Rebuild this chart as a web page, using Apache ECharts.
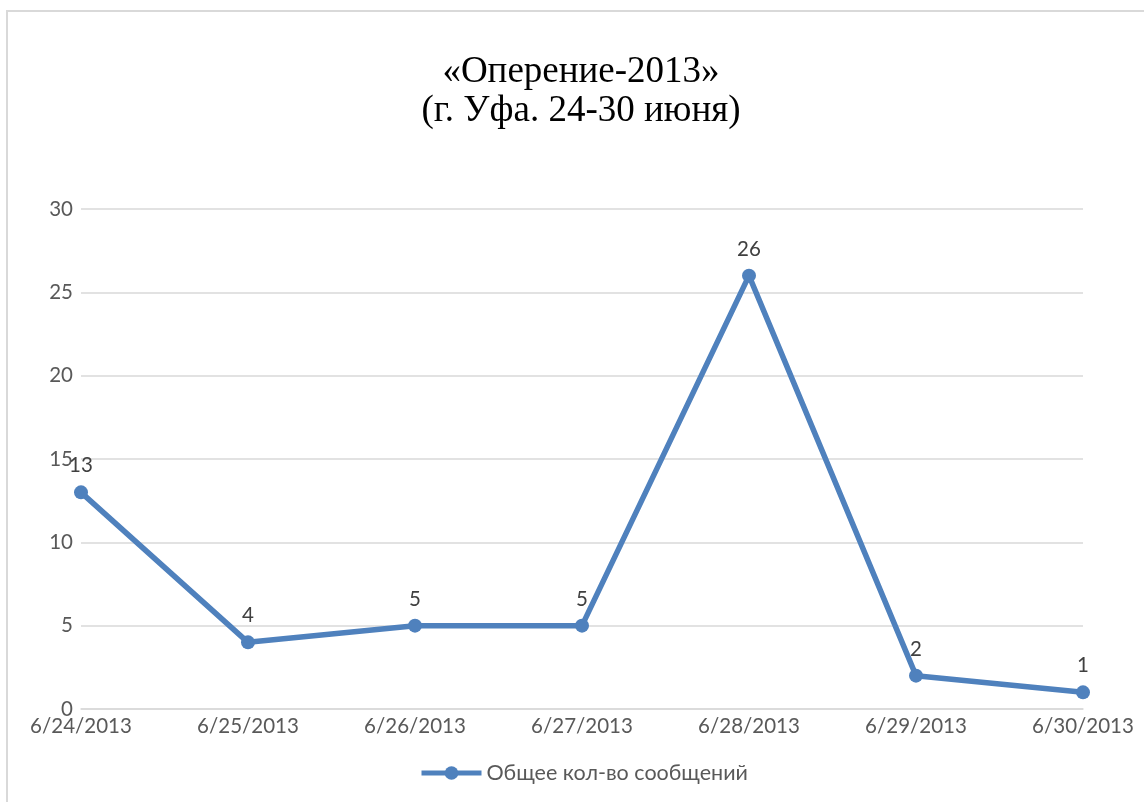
<!DOCTYPE html>
<html><head><meta charset="utf-8">
<script src="https://cdn.jsdelivr.net/npm/echarts@6/dist/echarts.min.js"></script>
<style>html,body{margin:0;padding:0;background:#fff}#c{width:1144px;height:802px}</style>
</head><body><div id="c"></div>
<script>
const categories = ['6/24/2013','6/25/2013','6/26/2013','6/27/2013','6/28/2013','6/29/2013','6/30/2013'];
const messages = [13, 4, 5, 5, 26, 2, 1];
const seriesName = 'Общее кол-во сообщений';
const titleText = '«Оперение-2013»\n(г. Уфа. 24-30 июня)';

const chart = echarts.init(document.getElementById('c'), null, {renderer:'canvas'});
chart.setOption({
  animation:false,
  backgroundColor:'#fff',
  graphic:[
    {type:'rect',shape:{x:7,y:11,width:1145,height:800},style:{fill:'none',stroke:'#d9d9d9',lineWidth:2},silent:true},
    {type:'text',x:581,y:53,style:{text:titleText,textAlign:'center',textVerticalAlign:'top',fontFamily:'Liberation Serif',fontSize:37,lineHeight:39,fill:'#000'},silent:true}
  ],
  legend:{bottom:13,left:414,itemWidth:60,itemHeight:17,itemGap:10,
    lineStyle:{width:5},
    textStyle:{fontFamily:'Lato',fontSize:21.5,color:'#595959'},data:[seriesName]},
  grid:{left:81,right:61,top:209,bottom:93,containLabel:false},
  xAxis:{type:'category',data:categories,boundaryGap:false,
    axisLine:{show:true,lineStyle:{color:'#d9d9d9',width:1.5}},axisTick:{show:false},
    axisLabel:{fontFamily:'Lato',fontSize:20.5,color:'#595959',margin:7,interval:0}},
  yAxis:{type:'value',min:0,max:30,interval:5,
    axisLine:{show:false},axisTick:{show:false},
    splitLine:{lineStyle:{color:'#d9d9d9',width:1.5}},
    axisLabel:{fontFamily:'Lato',fontSize:20.5,color:'#595959',margin:8}},
  series:[{name:seriesName,type:'line',data:messages,
    lineStyle:{color:'#4f81bd',width:5.5},
    itemStyle:{color:'#4f81bd'},symbol:'circle',symbolSize:14,
    label:{show:true,position:'top',distance:9,fontFamily:'Lato',fontSize:20.5,color:'#404040'}}]
});
</script></body></html>
